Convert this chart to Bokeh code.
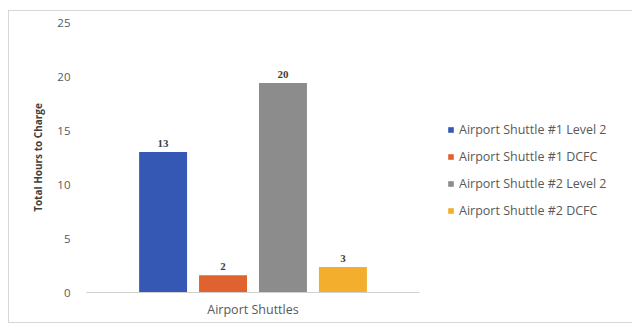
from bokeh.plotting import figure
from bokeh.models import (ColumnDataSource, FactorRange, Range1d, FixedTicker,
                          Legend, LegendItem, LabelSet)
from bokeh.transform import dodge
from bokeh.embed import file_html
from bokeh.resources import INLINE

category = ["Airport Shuttles"]
series = ["Airport Shuttle #1 Level 2", "Airport Shuttle #1 DCFC",
          "Airport Shuttle #2 Level 2", "Airport Shuttle #2 DCFC"]
values = [13.0, 1.6, 19.4, 2.35]
value_labels = ["13", "2", "20", "3"]
colors = ["#3558B5", "#E0622F", "#8C8C8C", "#F2AE2C"]
y_ticks = [0, 5, 10, 15, 20, 25]
y_title = "Total Hours to Charge"

FONT = "Open Sans"
TEXT = "#595959"

p = figure(x_range=FactorRange(*category, range_padding=0),
           y_range=Range1d(0, 25),
           frame_width=333, frame_height=270,
           output_backend="svg", toolbar_location=None,
           min_border_left=77, min_border_right=0, min_border_top=11,
           min_border_bottom=30)
p.margin = (10, 0, 0, 8)
p.styles = {"border": "1px solid #d6d6d6", "box-sizing": "border-box"}
p.outline_line_color = None
p.grid.grid_line_color = None

offsets = [-0.27, -0.09, 0.09, 0.27]
items = []
for i, name in enumerate(series):
    src = ColumnDataSource(dict(x=category, top=[values[i]], lab=[value_labels[i]]))
    r = p.vbar(x=dodge("x", offsets[i], range=p.x_range), top="top", width=0.144,
               source=src, color=colors[i], line_color=None)
    items.append(LegendItem(label=name, renderers=[r]))
    lbl = LabelSet(x=dodge("x", offsets[i], range=p.x_range), y="top", text="lab",
                   source=src, text_align="center", text_baseline="bottom",
                   y_offset=5, text_font=FONT, text_font_size="11px",
                   text_font_style="bold", text_color="#404040")
    p.add_layout(lbl)

p.yaxis.ticker = FixedTicker(ticks=y_ticks)
p.yaxis.axis_line_color = None
p.yaxis.major_tick_line_color = None
p.yaxis.minor_tick_line_color = None
p.yaxis.major_label_text_font = FONT
p.yaxis.major_label_text_font_size = "11.5px"
p.yaxis.major_label_text_color = TEXT
p.yaxis.major_label_standoff = 10
p.yaxis.axis_label = y_title
p.yaxis.axis_label_text_font = FONT
p.yaxis.axis_label_text_font_size = "10px"
p.yaxis.axis_label_text_font_style = "bold"
p.yaxis.axis_label_text_color = "#404040"
p.yaxis.axis_label_standoff = 9

p.xaxis.axis_line_color = "#d0d0d0"
p.xaxis.axis_line_width = 1
p.xaxis.major_tick_line_color = None
p.xaxis.minor_tick_line_color = None
p.xaxis.major_tick_out = 0
p.xaxis.major_label_text_font = FONT
p.xaxis.major_label_text_font_size = "12.5px"
p.xaxis.major_label_text_color = TEXT
p.xaxis.major_label_standoff = 8
p.xaxis.axis_label_standoff = 0

legend = Legend(items=items, location=(28, 72), orientation="vertical",
                label_text_font=FONT, label_text_font_size="12.5px",
                label_text_color=TEXT, glyph_width=7, glyph_height=7,
                label_height=20, spacing=7, padding=0, margin=0,
                border_line_color=None, background_fill_alpha=0,
                label_standoff=5)
p.add_layout(legend, "right")

open("out.html", "w").write(file_html(p, INLINE))
